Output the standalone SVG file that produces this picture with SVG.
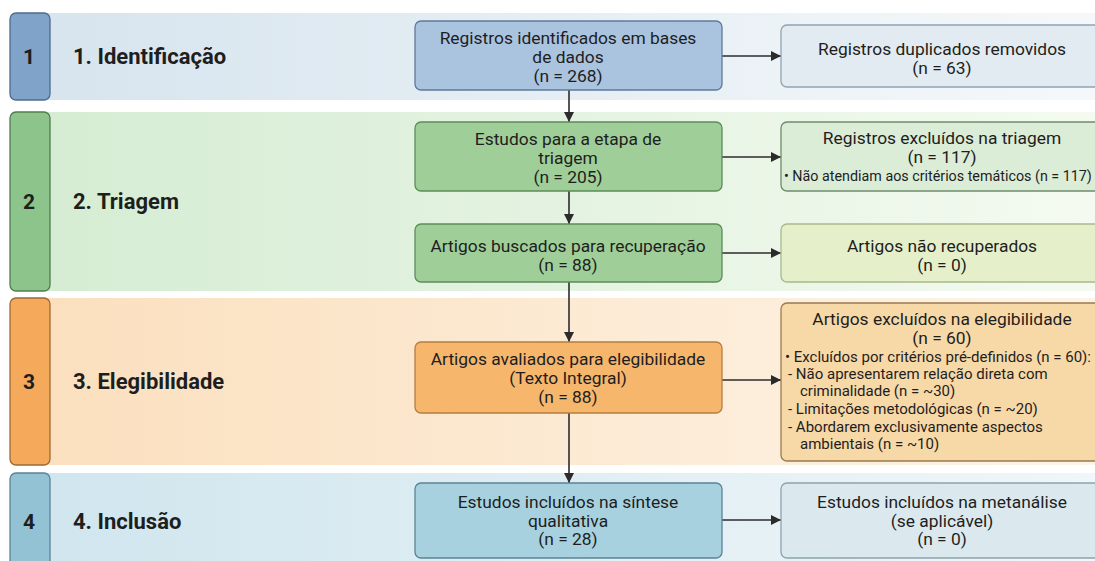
<svg xmlns="http://www.w3.org/2000/svg" width="1095" height="561" viewBox="0 0 1095 561">
<defs>
<linearGradient id="g1" x1="0" y1="0" x2="1" y2="0"><stop offset="0" stop-color="#d6e4ee"/><stop offset="1" stop-color="#f5f8fa"/></linearGradient>
<linearGradient id="g2" x1="0" y1="0" x2="1" y2="0"><stop offset="0" stop-color="#d4ecd2"/><stop offset="1" stop-color="#f4faf0"/></linearGradient>
<linearGradient id="g3" x1="0" y1="0" x2="1" y2="0"><stop offset="0" stop-color="#fbdfbd"/><stop offset="1" stop-color="#fdf4e8"/></linearGradient>
<linearGradient id="g4" x1="0" y1="0" x2="1" y2="0"><stop offset="0" stop-color="#cfe5ee"/><stop offset="1" stop-color="#f0f6f9"/></linearGradient>
<marker id="arr" viewBox="0 0 10 10" refX="10" refY="5" markerWidth="10" markerHeight="10" markerUnits="userSpaceOnUse" orient="auto"><path d="M0,0 L10,5 L0,10 z" fill="#2b2b2b"/></marker>
<style>
text{font-family:Roboto,"Liberation Sans",sans-serif;fill:#1e1e1e}
.num{font-size:21px;font-weight:bold;text-anchor:middle}
.stage{font-size:22px;font-weight:bold}
.t{font-size:17.4px;text-anchor:middle}
.s{font-size:15px}
.box{stroke-width:1.3}
.badge{stroke-width:1.3}
.conn line{stroke:#2b2b2b;stroke-width:1.6;marker-end:url(#arr)}
</style>
</defs>
<rect width="1095" height="561" fill="#ffffff"/>

<g id="band1">
<rect x="12" y="13" width="1083" height="87" fill="url(#g1)"/>
<rect class="badge" x="10" y="13" width="40" height="87" rx="6" fill="#7fa3c9" stroke="#4d6c8c"/>
<text class="num" x="29" y="64">1</text>
<text class="stage" x="73" y="64">1. Identificação</text>
</g>
<g id="band2">
<rect x="12" y="112" width="1083" height="179" fill="url(#g2)"/>
<rect class="badge" x="10" y="112" width="40" height="179" rx="6" fill="#8cc48b" stroke="#4f7d4f"/>
<text class="num" x="29" y="209">2</text>
<text class="stage" x="73" y="209">2. Triagem</text>
</g>
<g id="band3">
<rect x="12" y="298" width="1083" height="167" fill="url(#g3)"/>
<rect class="badge" x="10" y="298" width="40" height="167" rx="6" fill="#f5a95a" stroke="#9b6a35"/>
<text class="num" x="29" y="389">3</text>
<text class="stage" x="73" y="389">3. Elegibilidade</text>
</g>
<g id="band4">
<rect x="12" y="473" width="1083" height="88" fill="url(#g4)"/>
<rect class="badge" x="10" y="473" width="40" height="95" rx="6" fill="#93c2d5" stroke="#5b8394"/>
<text class="num" x="29" y="529">4</text>
<text class="stage" x="73" y="529">4. Inclusão</text>
</g>

<g class="conn" id="connectors">
<line x1="569" y1="90" x2="569" y2="122"/>
<line x1="569" y1="191" x2="569" y2="224"/>
<line x1="569" y1="282" x2="569" y2="342"/>
<line x1="569" y1="413" x2="569" y2="483"/>
<line x1="722" y1="56" x2="781" y2="56"/>
<line x1="722" y1="157" x2="781" y2="157"/>
<line x1="722" y1="253" x2="781" y2="253"/>
<line x1="722" y1="380" x2="781" y2="380"/>
<line x1="722" y1="520" x2="781" y2="520"/>
</g>

<g id="n1">
<rect class="box" x="415" y="21" width="307" height="69" rx="6" fill="#aac3de" stroke="#5d7b99"/>
<text class="t" x="568" y="44">Registros identificados em bases</text>
<text class="t" x="568" y="63">de dados</text>
<text class="t" x="568" y="82">(n = 268)</text>
</g>
<g id="r1">
<rect class="box" x="781" y="25" width="320" height="62" rx="6" fill="#e2ebf1" stroke="#8fa3b3"/>
<text class="t" x="942" y="55">Registros duplicados removidos</text>
<text class="t" x="942" y="74">(n = 63)</text>
</g>
<g id="n2">
<rect class="box" x="415" y="122" width="307" height="69" rx="6" fill="#9fce98" stroke="#5d8c5a"/>
<text class="t" x="568" y="145">Estudos para a etapa de</text>
<text class="t" x="568" y="164">triagem</text>
<text class="t" x="568" y="183">(n = 205)</text>
</g>
<g id="r2">
<rect class="box" x="781" y="122" width="320" height="69" rx="6" fill="#dbecd7" stroke="#6f8c6c"/>
<text class="t" x="942" y="144">Registros excluídos na triagem</text>
<text class="t" x="942" y="163">(n = 117)</text>
<text class="s" x="784" y="181" style="font-size:14.3px">• Não atendiam aos critérios temáticos (n = 117)</text>
</g>
<g id="n3">
<rect class="box" x="415" y="224" width="307" height="58" rx="6" fill="#9fce98" stroke="#5d8c5a"/>
<text class="t" x="568" y="252">Artigos buscados para recuperação</text>
<text class="t" x="568" y="271">(n = 88)</text>
</g>
<g id="r3">
<rect class="box" x="781" y="224" width="320" height="58" rx="6" fill="#e5f0cb" stroke="#a8b98a"/>
<text class="t" x="942" y="252">Artigos não recuperados</text>
<text class="t" x="942" y="271">(n = 0)</text>
</g>
<g id="n4">
<rect class="box" x="415" y="342" width="307" height="71" rx="6" fill="#f6b66c" stroke="#b57e3e"/>
<text class="t" x="568" y="365">Artigos avaliados para elegibilidade</text>
<text class="t" x="568" y="384">(Texto Integral)</text>
<text class="t" x="568" y="403">(n = 88)</text>
</g>
<g id="r4">
<rect class="box" x="781" y="303" width="320" height="158" rx="6" fill="#f7d8a7" stroke="#9b7a4f"/>
<text class="t" x="942" y="325">Artigos excluídos na elegibilidade</text>
<text class="t" x="942" y="344">(n = 60)</text>
<text class="s" x="785" y="362">• Excluídos por critérios pré-definidos (n = 60):</text>
<text class="s" x="788" y="379">-  Não apresentarem relação direta com</text>
<text class="s" x="800" y="396">criminalidade (n = ~30)</text>
<text class="s" x="788" y="414">-  Limitações metodológicas (n = ~20)</text>
<text class="s" x="788" y="432">-  Abordarem exclusivamente aspectos</text>
<text class="s" x="800" y="449">ambientais (n = ~10)</text>
</g>
<g id="n5">
<rect class="box" x="415" y="483" width="307" height="75" rx="6" fill="#a8d1df" stroke="#5b8394"/>
<text class="t" x="568" y="508">Estudos incluídos na síntese</text>
<text class="t" x="568" y="527">qualitativa</text>
<text class="t" x="568" y="545">(n = 28)</text>
</g>
<g id="r5">
<rect class="box" x="781" y="483" width="320" height="75" rx="6" fill="#dbe9ef" stroke="#8fa3ab"/>
<text class="t" x="942" y="508">Estudos incluídos na metanálise</text>
<text class="t" x="942" y="527">(se aplicável)</text>
<text class="t" x="942" y="545">(n = 0)</text>
</g>
</svg>
